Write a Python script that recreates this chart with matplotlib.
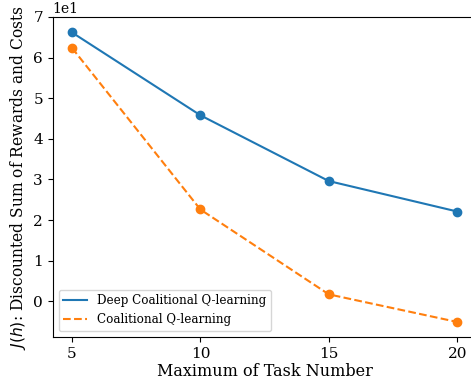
import matplotlib
matplotlib.use("Agg")
import matplotlib.pyplot as plt

task_numbers = [5, 10, 15, 20]
deep_cql = [66.2, 45.8, 29.6, 22.1]
cql = [62.4, 22.6, 1.7, -5.1]

plt.rcParams['font.family'] = 'DejaVu Serif'

fig = plt.figure(figsize=(4.71, 3.84), dpi=100)
ax = fig.add_axes([52.7 / 471, 47 / 384, (476.5 - 52.7) / 471, 320 / 384])

blue, orange = '#1f77b4', '#ff7f0e'
ax.plot(task_numbers, deep_cql, '-', color=blue, lw=1.5,
        label='Deep Coalitional Q-learning')
ax.plot(task_numbers, cql, '--', color=orange, lw=1.5,
        label='Coalitional Q-learning')
ax.plot(task_numbers, deep_cql, 'o', color=blue, ms=6)
ax.plot(task_numbers, cql, 'o', color=orange, ms=6)

ax.set_xticks(task_numbers)
ax.set_xlim(4.25, 20.75)
ax.set_ylim(-8.8, 70.0)
ax.ticklabel_format(axis='y', style='sci', scilimits=(1, 1))
ax.tick_params(labelsize=11)
ax.yaxis.get_offset_text().set_fontsize(10)
ax.set_xlabel('Maximum of Task Number', fontsize=11.5, labelpad=2)
ax.set_ylabel('$J(h)$: Discounted Sum of Rewards and Costs', fontsize=11.2)
ax.legend(loc='lower left', fontsize=8.6)

fig.savefig('out.png', dpi=100)
